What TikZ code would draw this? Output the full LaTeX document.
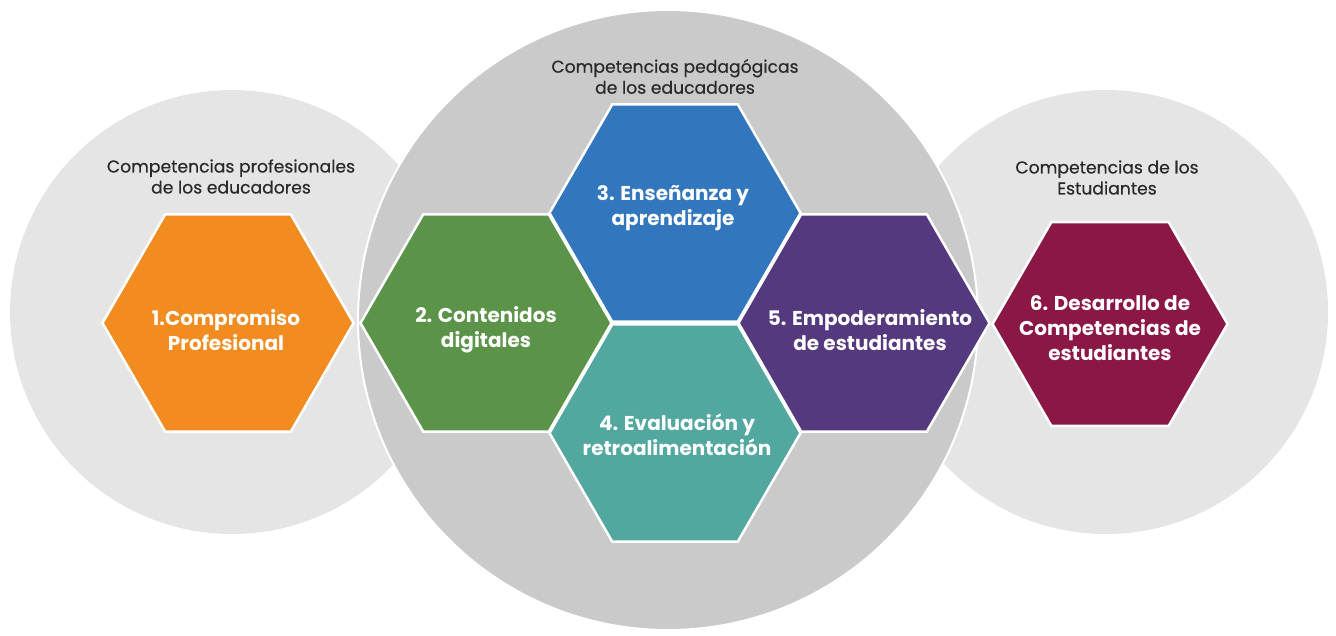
\documentclass[tikz,border=0pt]{standalone}
\usepackage{fontspec}
\setmainfont{Poppins}
\newfontfamily\capfont[FakeBold=0.5]{Poppins}
\usetikzlibrary{shapes.geometric}

\definecolor{ringlight}{HTML}{E5E5E5}
\definecolor{ringdark}{HTML}{CACACA}
\definecolor{capgray}{HTML}{2A2A2A}
\definecolor{hexorange}{HTML}{F28B20}
\definecolor{hexgreen}{HTML}{5B9449}
\definecolor{hexblue}{HTML}{3277BD}
\definecolor{hexteal}{HTML}{52A89F}
\definecolor{hexpurple}{HTML}{55397E}
\definecolor{hexcrimson}{HTML}{8B1746}

\begin{document}
\begin{tikzpicture}[x=1pt,y=-1pt]
  \useasboundingbox (0,0) rectangle (1336,635);

  \begin{scope}[every node/.style={circle,inner sep=0pt,minimum size=444pt,fill=ringlight}]
    \node (izq) at (232,312) {};
    \node (der) at (1106,312) {};
    \node[fill=ringdark,draw=white,line width=2pt,minimum size=620pt] (centro) at (668,320) {};
  \end{scope}

  \begin{scope}[every node/.style={regular polygon,regular polygon sides=6,inner sep=0pt,
      minimum size=251pt,draw=white,line width=2.5pt}]
    \node[fill=hexorange] (1) at (228,323) {};
    \node[fill=hexgreen]  (2) at (486,323) {};
    \node[fill=hexblue]   (3) at (675,213) {};
    \node[fill=hexteal]   (4) at (675,433) {};
    \node[fill=hexpurple] (5) at (864,323) {};
    \node[fill=hexcrimson,minimum size=235pt] (6) at (1110,324) {};
  \end{scope}

  \begin{scope}[every node/.style={text=white,align=center,font=\bfseries\fontsize{20}{25}\selectfont}]
    \node (t1) at (226,330)   {1.Compromiso\\Profesional};
    \node (t2) at (486,330)   {2. Contenidos\\digitales};
    \node (t3) at (673,208.5) {3. Enseñanza y\\aprendizaje};
    \node (t4) at (677,434.5) {4. Evaluación y\\retroalimentación};
    \node (t5) at (870,330)   {5. Empoderamiento\\de estudiantes};
    \node (t6) at (1110,328)  {6. Desarrollo de\\Competencias de\\estudiantes};
  \end{scope}

  \begin{scope}[every node/.style={text=capgray,align=center,font=\capfont\fontsize{17.2}{21}\selectfont}]
    \node (prof) at (231,176.5)  {Competencias profesionales\\de los educadores};
    \node (ped)  at (675,76.5)   {Competencias pedagógicas\\de los educadores};
    \node (est)  at (1107,177.5) {Competencias de los\\Estudiantes};
  \end{scope}

\end{tikzpicture}
\end{document}
